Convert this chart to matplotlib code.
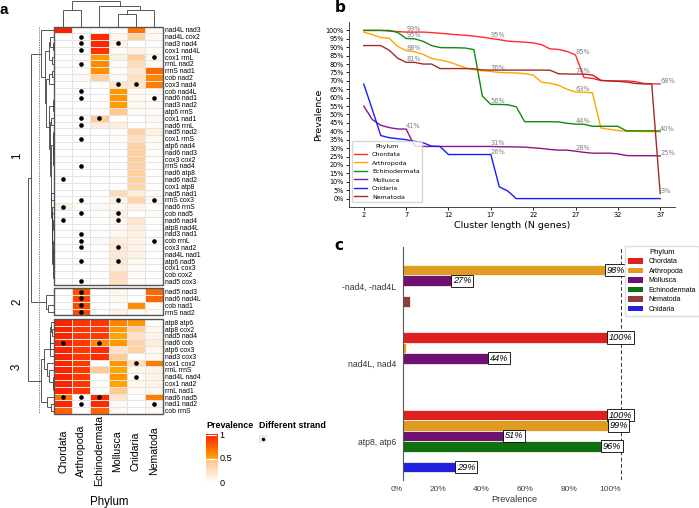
import numpy as np
import matplotlib
matplotlib.use('Agg')
import matplotlib.pyplot as plt
from matplotlib.colors import LinearSegmentedColormap
from matplotlib.collections import LineCollection
from matplotlib.patches import Rectangle, Patch
from matplotlib.ticker import PercentFormatter
import matplotlib.transforms as mtransforms

plt.rcParams['font.family'] = ['Liberation Sans', 'DejaVu Sans']

# ---------------- data: panel a (heatmap) ----------------
phyla_a = ['Chordata', 'Arthropoda', 'Echinodermata', 'Mollusca', 'Cnidaria', 'Nematoda']

c1_rows = ['nad4L nad3', 'nad4L cox2', 'nad3 nad4', 'cox1 nad4L', 'cox1 rrnL', 'rrnL nad2',
           'rrnS nad1', 'cob nad2', 'cox3 nad4', 'cob nad4L', 'nad6 nad1', 'nad3 nad2',
           'atp6 rrnS', 'cox1 nad1', 'nad6 rrnL', 'nad5 nad2', 'cox1 rrnS', 'atp6 nad4',
           'nad6 nad3', 'cox3 cox2', 'rrnS nad4', 'nad6 atp8', 'nad6 nad2', 'cox1 atp8',
           'nad5 nad1', 'rrnS cox3', 'nad6 rrnS', 'cob nad5', 'nad6 nad4', 'atp8 nad4L',
           'nad3 nad1', 'cob rrnL', 'cox3 nad2', 'nad4L nad1', 'atp6 nad5', 'cox1 cox3',
           'cob cox2', 'nad5 cox3']
c1_vals = [
    [1.00, 0.00, 0.00, 0.03, 0.68, 0.04],
    [0.00, 0.00, 0.95, 0.08, 0.38, 0.05],
    [0.00, 0.00, 0.97, 0.10, 0.00, 0.03],
    [0.00, 0.00, 0.93, 0.03, 0.10, 0.03],
    [0.00, 0.02, 0.55, 0.12, 0.42, 0.08],
    [0.00, 0.00, 0.60, 0.03, 0.30, 0.05],
    [0.00, 0.03, 0.58, 0.02, 0.20, 0.72],
    [0.00, 0.05, 0.40, 0.05, 0.25, 0.62],
    [0.00, 0.00, 0.02, 0.22, 0.22, 0.66],
    [0.00, 0.00, 0.00, 0.55, 0.06, 0.03],
    [0.00, 0.00, 0.00, 0.56, 0.06, 0.00],
    [0.00, 0.00, 0.00, 0.53, 0.06, 0.03],
    [0.00, 0.00, 0.00, 0.46, 0.06, 0.03],
    [0.00, 0.00, 0.42, 0.03, 0.00, 0.06],
    [0.00, 0.00, 0.15, 0.15, 0.00, 0.03],
    [0.00, 0.00, 0.00, 0.03, 0.38, 0.12],
    [0.00, 0.00, 0.00, 0.03, 0.28, 0.06],
    [0.00, 0.00, 0.00, 0.03, 0.38, 0.04],
    [0.00, 0.00, 0.00, 0.00, 0.40, 0.03],
    [0.00, 0.00, 0.00, 0.00, 0.40, 0.00],
    [0.00, 0.00, 0.00, 0.03, 0.38, 0.00],
    [0.00, 0.00, 0.00, 0.00, 0.38, 0.00],
    [0.00, 0.00, 0.00, 0.00, 0.38, 0.00],
    [0.00, 0.00, 0.00, 0.00, 0.36, 0.00],
    [0.00, 0.00, 0.00, 0.30, 0.15, 0.03],
    [0.00, 0.00, 0.00, 0.12, 0.36, 0.06],
    [0.12, 0.02, 0.06, 0.06, 0.10, 0.02],
    [0.00, 0.00, 0.00, 0.12, 0.00, 0.03],
    [0.00, 0.00, 0.00, 0.06, 0.20, 0.00],
    [0.00, 0.00, 0.00, 0.06, 0.15, 0.00],
    [0.00, 0.00, 0.00, 0.06, 0.12, 0.00],
    [0.00, 0.00, 0.06, 0.15, 0.10, 0.03],
    [0.00, 0.00, 0.00, 0.18, 0.10, 0.00],
    [0.00, 0.00, 0.00, 0.18, 0.10, 0.00],
    [0.00, 0.00, 0.00, 0.18, 0.06, 0.00],
    [0.00, 0.00, 0.00, 0.15, 0.04, 0.00],
    [0.00, 0.00, 0.00, 0.28, 0.04, 0.00],
    [0.00, 0.00, 0.00, 0.25, 0.03, 0.00],
]
c1_dots = ['000000', '010000', '010100', '010000', '000001', '010000', '000000', '000000',
           '000110', '010000', '010001', '000000', '000000', '011000', '010000', '000000',
           '010000', '000000', '000000', '000000', '010000', '000000', '100000', '000000',
           '000000', '010101', '100000', '010100', '100100', '000000', '010000', '010001',
           '010100', '000000', '010100', '000000', '000000', '010000']

c2_rows = ['nad5 nad3', 'nad6 nad4L', 'cob nad1', 'rrnS nad2']
c2_vals = [
    [0.00, 0.82, 0.00, 0.08, 0.00, 0.72],
    [0.00, 0.84, 0.00, 0.05, 0.00, 0.74],
    [0.00, 0.84, 0.00, 0.03, 0.58, 0.03],
    [0.00, 0.84, 0.02, 0.10, 0.04, 0.06],
]
c2_dots = ['010000', '010000', '010000', '010000']

c3_rows = ['atp8 atp6', 'atp8 cox2', 'nad5 nad4', 'nad6 cob', 'atp6 cox3', 'nad3 cox3',
           'cox1 cox2', 'rrnL rrnS', 'nad4L nad4', 'cox1 nad2', 'rrnL nad1', 'nad6 nad5',
           'nad1 nad2', 'cob rrnS']
c3_vals = [
    [0.98, 0.92, 0.92, 0.62, 0.56, 0.02],
    [0.98, 0.92, 0.90, 0.56, 0.40, 0.08],
    [0.98, 0.91, 0.90, 0.50, 0.24, 0.10],
    [0.98, 0.91, 0.60, 0.55, 0.34, 0.15],
    [0.98, 0.91, 0.95, 0.24, 0.38, 0.06],
    [0.98, 0.91, 0.95, 0.42, 0.03, 0.06],
    [0.98, 0.91, 0.00, 0.56, 0.28, 0.66],
    [0.98, 0.91, 0.42, 0.50, 0.08, 0.10],
    [0.98, 0.91, 0.00, 0.56, 0.02, 0.10],
    [0.98, 0.91, 0.00, 0.50, 0.06, 0.10],
    [0.98, 0.91, 0.00, 0.45, 0.04, 0.08],
    [0.68, 0.00, 0.95, 0.22, 0.00, 0.64],
    [0.98, 0.00, 0.95, 0.06, 0.00, 0.08],
    [0.76, 0.00, 0.74, 0.06, 0.00, 0.05],
]
c3_dots = ['000000', '000000', '000000', '101000', '000000', '000000', '000010', '000000',
           '000010', '000000', '000000', '111000', '010001', '000000']

# column dendrogram links (node a, node b, height); leaves 0..5, new nodes numbered from 6
col_links = [(0, 1, 0.64), (3, 4, 0.50), (7, 5, 0.66), (2, 8, 0.81), (6, 9, 1.00)]
row_join_heights = [0.86, 1.00]
row_cut_height = 0.56

# ---------------- data: panel b ----------------
cluster_len = list(range(2, 38))
prev_b = {
    'Chordata': [100, 100, 100, 99.6, 99.3, 99, 99, 99, 98.7, 98.3, 97.9, 97.4, 97.1, 96.6, 96,
                 95.2, 94.5, 93.6, 93.3, 93, 92.6, 91.5, 89, 88.7, 87.5, 85.4, 72, 71.5, 70.2,
                 70, 70, 70, 69.6, 68.5, 68.2, 68.2],
    'Arthropoda': [99, 97.5, 95.8, 95.3, 90.5, 88, 87.3, 85.8, 83.3, 82.4, 81.3, 79.6, 77.8,
                   76.6, 76, 75.6, 75, 74.8, 74.7, 74.3, 73.4, 69.2, 68.6, 67.4, 65, 63.4, 63.2,
                   62.9, 42, 41.2, 40.5, 40, 40, 39.8, 39.8, 39.8],
    'Echinodermata': [100, 100, 100, 100, 98.8, 95.2, 95, 93.5, 91, 89.8, 89.7, 89.7, 89.5,
                      88.6, 61, 56, 56, 55.8, 54.6, 45.7, 45.7, 45.7, 45.7, 45.6, 44.8, 44.3,
                      44.2, 43, 43, 43, 43, 40.3, 40.3, 40.3, 40.3, 40.2],
    'Mollusca': [55, 47, 43.6, 42.2, 41.4, 41.3, 31.2, 31, 31, 31, 31, 31, 31, 31, 31, 31, 30.8,
                 30.8, 30.7, 30.6, 30.2, 29.8, 29.2, 28.8, 28.8, 28.2, 27.5, 27, 27, 27, 26.6,
                 25.6, 25.5, 25.5, 25.5, 25.4],
    'Cnidaria': [68, 53, 37.5, 36.2, 35.6, 35, 34, 33.2, 31.2, 31, 26.2, 26.2, 26.2, 26.2, 26.2,
                 26.2, 7, 4.5, 0, 0, 0, 0, 0, 0, 0, 0, 0, 0, 0, 0, 0, 0, 0, 0, 0, 0],
    'Nematoda': [91, 91, 91, 88.2, 83.5, 81, 81, 80, 80, 77.3, 77.3, 77.3, 77.3, 77.2, 76.5,
                 76.4, 76.4, 76.4, 76.4, 76.4, 76.4, 76.4, 76.3, 74.2, 74.1, 74, 74, 73.5, 70.3,
                 70, 69.7, 69.3, 68.5, 68.2, 68.2, 3],
}
colors_b = {'Chordata': '#ff2a2a', 'Arthropoda': '#ffa500', 'Echinodermata': '#108a10',
            'Mollusca': '#8b168b', 'Cnidaria': '#1a1aff', 'Nematoda': '#a52a2a'}
label_x_b = [7, 17, 27, 37]
no_label_b = [('Cnidaria', 7)]

# ---------------- data: panel c ----------------
groups_c = ['-nad4, -nad4L', 'nad4L, nad4', 'atp8, atp6']
phyla_c = ['Chordata', 'Arthropoda', 'Mollusca', 'Echinodermata', 'Nematoda', 'Cnidaria']
prev_c = {
    'Chordata': [0.0, 1.00, 1.00],
    'Arthropoda': [0.98, 0.012, 0.99],
    'Mollusca': [0.27, 0.44, 0.51],
    'Echinodermata': [0.0, 0.0, 0.96],
    'Nematoda': [0.03, 0.0, 0.0],
    'Cnidaria': [0.0, 0.0, 0.29],
}
colors_c = {'Chordata': '#df2020', 'Arthropoda': '#df9c20', 'Mollusca': '#701070',
            'Echinodermata': '#107010', 'Nematoda': '#963939', 'Cnidaria': '#2020df'}

# ---------------- layout helpers ----------------
W, H = 699, 508
fig = plt.figure(figsize=(W / 100, H / 100), dpi=100)


def rect(l, t, r, b):
    return [l / W, 1 - b / H, (r - l) / W, (b - t) / H]


def fy(y):
    return 1 - y / H


def fx(x):
    return x / W


# ---------------- panel a ----------------
cmap = LinearSegmentedColormap.from_list(
    'prev', [(0.0, '#ffffff'), (0.49, '#ffc487'), (0.5, '#ffa500'), (1.0, '#ff1f00')])

clusters = [(c1_rows, c1_vals, c1_dots), (c2_rows, c2_vals, c2_dots), (c3_rows, c3_vals, c3_dots)]
gap = 0.5
offsets = []
off = 0.0
for rows, _, _ in clusters:
    offsets.append(off)
    off += len(rows) + gap
total = off - gap

ax_h = fig.add_axes(rect(54, 26.5, 163, 414))
ytick_pos, ytick_lab = [], []
for (rows, vals, dots), o in zip(clusters, offsets):
    n = len(rows)
    ax_h.pcolormesh(np.arange(7), o + np.arange(n + 1), np.array(vals), cmap=cmap,
                    vmin=0, vmax=1, edgecolors='#e4e4e4', linewidth=0.5)
    ax_h.add_patch(Rectangle((0, o), 6, n, fill=False, edgecolor='#555555', lw=1.0, zorder=5,
                             clip_on=False))
    for i, d in enumerate(dots):
        for j, ch in enumerate(d):
            if ch == '1':
                ax_h.scatter(j + 0.5, o + i + 0.5, s=11, color='black', zorder=6, lw=0)
    ytick_pos += list(o + np.arange(n) + 0.5)
    ytick_lab += rows
ax_h.set_xlim(0, 6)
ax_h.set_ylim(total, 0)
ax_h.set_xticks([])
ax_h.yaxis.tick_right()
ax_h.set_yticks(ytick_pos)
ax_h.set_yticklabels(ytick_lab, fontsize=4.9)
ax_h.tick_params(axis='y', length=0, pad=1.5)
for s in ax_h.spines.values():
    s.set_visible(False)

blend = mtransforms.blended_transform_factory(ax_h.transData, fig.transFigure)
for j, p in enumerate(phyla_a):
    ax_h.text(j + 0.5, fy(451), p, transform=blend, rotation=90, ha='center', va='center',
              fontsize=7.6)
fig.text(fx(109), fy(502), 'Phylum', ha='center', va='center', fontsize=8.3)


# row dendrogram (order-preserving average-linkage clustering of each slice)
def ordered_tree(vals):
    X = np.asarray(vals, dtype=float)
    D = np.sqrt(((X[:, None, :] - X[None, :, :]) ** 2).sum(-1))
    nodes = [dict(m=[i], y=i + 0.5, h=0.0) for i in range(len(X))]
    segs = []
    while len(nodes) > 1:
        best_k, best_d = 0, np.inf
        for k in range(len(nodes) - 1):
            d = D[np.ix_(nodes[k]['m'], nodes[k + 1]['m'])].mean()
            if d < best_d:
                best_k, best_d = k, d
        a, b = nodes[best_k], nodes[best_k + 1]
        h = max(best_d, a['h'], b['h'])
        segs.append((a['y'], a['h'], b['y'], b['h'], h))
        nodes[best_k:best_k + 2] = [dict(m=a['m'] + b['m'], y=(a['y'] + b['y']) / 2, h=h)]
    return segs, nodes[0]


trees = [ordered_tree(v) for _, v, _ in clusters]
hmax = max(t[1]['h'] for t in trees)
scale = 0.5 / hmax
ax_rd = fig.add_axes(rect(27, 26.5, 54, 414))
lines = []
roots = []
for (segs, root), o in zip(trees, offsets):
    for ya, ha, yb, hb, h in segs:
        ya2, yb2 = ya + o, yb + o
        lines += [[(ha * scale, ya2), (h * scale, ya2)],
                  [(hb * scale, yb2), (h * scale, yb2)],
                  [(h * scale, ya2), (h * scale, yb2)]]
    roots.append((root['y'] + o, root['h'] * scale))
h12 = row_join_heights[0]
y12 = (roots[0][0] + roots[1][0]) / 2
lines += [[(roots[0][1], roots[0][0]), (h12, roots[0][0])],
          [(roots[1][1], roots[1][0]), (h12, roots[1][0])],
          [(h12, roots[0][0]), (h12, roots[1][0])]]
hr = row_join_heights[1]
lines += [[(h12, y12), (hr, y12)],
          [(roots[2][1], roots[2][0]), (hr, roots[2][0])],
          [(hr, y12), (hr, roots[2][0])]]
ax_rd.add_collection(LineCollection(lines, colors='#3a3a3a', linewidths=0.6))
ax_rd.plot([row_cut_height, row_cut_height], [0, total], ls=(0, (2, 1.5)), color='#555555',
           lw=0.5)
ax_rd.set_xlim(1.02, 0)
ax_rd.set_ylim(total, 0)
ax_rd.axis('off')

blend_y = mtransforms.blended_transform_factory(fig.transFigure, ax_h.transData)
for k, ((rows, _, _), o) in enumerate(zip(clusters, offsets)):
    ax_h.text(fx(17), o + len(rows) / 2, str(k + 1), transform=blend_y, rotation=90,
              ha='center', va='center', fontsize=8.3)

# column dendrogram
ax_cd = fig.add_axes(rect(54, 0, 163, 26.5))
pos = {i: (i + 0.5, 0.0) for i in range(6)}
clines = []
nid = 6
for a, b, h in col_links:
    xa, ha = pos[a]
    xb, hb = pos[b]
    clines += [[(xa, ha), (xa, h)], [(xb, hb), (xb, h)], [(xa, h), (xb, h)]]
    pos[nid] = ((xa + xb) / 2, h)
    nid += 1
ax_cd.add_collection(LineCollection(clines, colors='#3a3a3a', linewidths=0.6))
ax_cd.set_xlim(0, 6)
ax_cd.set_ylim(0, 1.03)
ax_cd.axis('off')

# legends of panel a
fig.text(fx(206), fy(425.5), 'Prevalence', fontsize=6.4, fontweight='bold', va='center')
ax_cb = fig.add_axes(rect(206, 434, 217, 483))
ax_cb.imshow(np.linspace(0, 1, 256)[:, None], aspect='auto', cmap=cmap, origin='lower',
             extent=[0, 1, 0, 1])
ax_cb.hlines([0.5, 0.985], 0, 1, colors='white', lw=0.8)
ax_cb.set_xlim(0, 1)
ax_cb.set_ylim(0, 1)
ax_cb.axis('off')
for v, t in [(1, '1'), (0.5, '0.5'), (0, '0')]:
    yy = 483 - 49 * v + (1.5 if v == 1 else 0)
    fig.text(fx(219.5), fy(yy), t, fontsize=6.6, va='center', ha='left')
fig.text(fx(259), fy(425.5), 'Different strand', fontsize=6.4, fontweight='bold', va='center')
ax_ds = fig.add_axes(rect(259, 435, 267, 443))
ax_ds.set_facecolor('#ebebeb')
ax_ds.scatter([0.5], [0.5], s=6, color='black', lw=0)
ax_ds.set_xlim(0, 1)
ax_ds.set_ylim(0, 1)
ax_ds.set_xticks([])
ax_ds.set_yticks([])
for s in ax_ds.spines.values():
    s.set_visible(False)

# ---------------- panel b ----------------
ax_b = fig.add_axes(rect(349, 22, 675, 207))
for name, vals in prev_b.items():
    ax_b.plot(cluster_len, vals, color=colors_b[name], lw=1.0, label=name)
drawn = set()
for name, vals in prev_b.items():
    for x in label_x_b:
        v = vals[cluster_len.index(x)]
        if v <= 0 or (name, x) in no_label_b:
            continue
        txt = f'{v:.0f}%'
        if (x, txt) in drawn:
            continue
        drawn.add((x, txt))
        ax_b.text(x, v, txt, ha='left', va='bottom', color='#808080', fontsize=4.8,
                  family='DejaVu Sans')
ax_b.set_xticks(range(2, 38, 5))
ax_b.set_yticks(range(0, 101, 5))
ax_b.yaxis.set_major_formatter(PercentFormatter(100, decimals=0))
ax_b.tick_params(labelsize=4.7, length=2, width=0.6, pad=1.5, labelfontfamily='DejaVu Sans')
for s in ['top', 'right']:
    ax_b.spines[s].set_visible(False)
for s in ['left', 'bottom']:
    ax_b.spines[s].set_linewidth(0.7)
    ax_b.spines[s].set_color('#444444')
ax_b.set_xlabel('Cluster length (N genes)', fontsize=6.8, family='DejaVu Sans', labelpad=2)
ax_b.set_ylabel('Prevalence', fontsize=6.8, family='DejaVu Sans', labelpad=2)
ax_b.legend(title='Phylum', loc='lower left', bbox_to_anchor=(0.009, 0.027), borderaxespad=0,
            prop={'family': 'DejaVu Sans', 'size': 4.5},
            title_fontproperties={'family': 'DejaVu Sans', 'size': 4.5},
            labelspacing=0.5, handlelength=2.0, edgecolor='#cccccc')
fig.text(fx(340), fy(8), 'b', fontsize=11, fontweight='bold', va='center', ha='center',
         family='DejaVu Sans')

# ---------------- panel c ----------------
ax_c = fig.add_axes(rect(403, 247, 625, 480))
bh = 0.8 / len(phyla_c)
gpos = np.arange(len(groups_c))
for j, p in enumerate(phyla_c):
    y = gpos - 0.4 + (j + 0.5) * bh
    ax_c.barh(y, prev_c[p], height=bh, color=colors_c[p], edgecolor='white', lw=0.5, label=p)
    for yy, v in zip(y, prev_c[p]):
        if v >= 0.1:
            ax_c.text(v, yy, f'{v * 100:.0f}%', ha='center', va='center', style='italic',
                      fontsize=6.6, zorder=5,
                      bbox=dict(boxstyle='square,pad=0.18', fc='white', ec='black', lw=0.6))
ax_c.axvline(1.0, color='#333333', ls=(0, (4, 2.5)), lw=0.7)
ax_c.set_ylim(len(groups_c) - 0.5, -0.5)
ax_c.set_xlim(0, 1.02)
ax_c.set_yticks(gpos)
ax_c.set_yticklabels(groups_c, fontsize=6.2, color='#333333')
ax_c.set_xticks(np.linspace(0, 1, 6))
ax_c.set_xticklabels([f'{int(round(t * 100))}%' for t in np.linspace(0, 1, 6)], fontsize=6,
                     color='#444444', ha='right')
ax_c.tick_params(length=0)
ax_c.tick_params(axis='y', pad=5)
ax_c.tick_params(axis='x', pad=4)
for s in ['top', 'right', 'bottom']:
    ax_c.spines[s].set_visible(False)
ax_c.spines['left'].set_color('#555555')
ax_c.spines['left'].set_linewidth(0.8)
ax_c.set_xlabel('Prevalence', fontsize=6.6, color='#333333', labelpad=2)
handles = [Patch(facecolor=colors_c[p], label=p) for p in phyla_c]
ax_c.legend(handles=handles, title='Phylum', loc='upper left',
            bbox_to_anchor=(fx(625), fy(246)), bbox_transform=fig.transFigure,
            borderaxespad=0, fontsize=5, title_fontsize=5.5, labelspacing=0.35,
            handlelength=2.2, handleheight=0.8, edgecolor='#dddddd', fancybox=False,
            framealpha=1)

fig.text(fx(339), fy(245), 'c', fontsize=11, fontweight='bold', va='center', ha='center',
         family='DejaVu Sans')
fig.text(fx(4), fy(10), 'a', fontsize=11, fontweight='bold', va='center', ha='center')

fig.savefig('out.png', dpi=100)
